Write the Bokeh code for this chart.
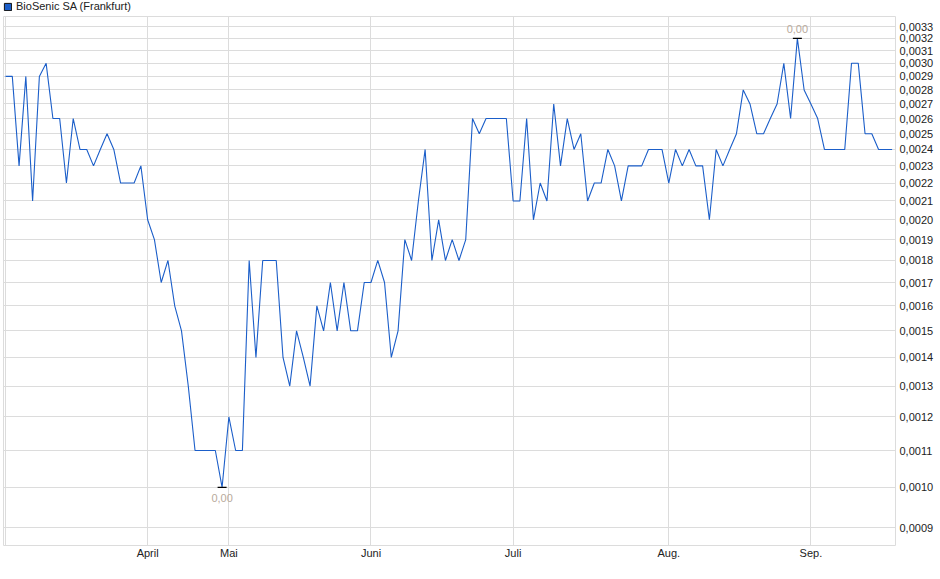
from bokeh.plotting import figure
from bokeh.layouts import column
from bokeh.models import (Range1d, FixedTicker, CustomJSTickFormatter,
                          ColumnDataSource, Legend, LegendItem)
from bokeh.core.properties import value
from bokeh.embed import file_html
from bokeh.resources import INLINE

# ---- data (one value per trading session) ----
prices = [
    0.0029, 0.0029, 0.0023, 0.0029, 0.0021, 0.0029, 0.0030, 0.0026, 0.0026, 0.0022,
    0.0026, 0.0024, 0.0024, 0.0023, 0.0024, 0.0025, 0.0024, 0.0022, 0.0022, 0.0022,
    0.0023, 0.0020, 0.0019, 0.0017, 0.0018, 0.0016, 0.0015, 0.0013, 0.0011, 0.0011,
    0.0011, 0.0011, 0.0010, 0.0012, 0.0011, 0.0011, 0.0018, 0.0014, 0.0018, 0.0018,
    0.0018, 0.0014, 0.0013, 0.0015, 0.0014, 0.0013, 0.0016, 0.0015, 0.0017, 0.0015,
    0.0017, 0.0015, 0.0015, 0.0017, 0.0017, 0.0018, 0.0017, 0.0014, 0.0015, 0.0019,
    0.0018, 0.0021, 0.0024, 0.0018, 0.0020, 0.0018, 0.0019, 0.0018, 0.0019, 0.0026,
    0.0025, 0.0026, 0.0026, 0.0026, 0.0026, 0.0021, 0.0021, 0.0026, 0.0020, 0.0022,
    0.0021, 0.0027, 0.0023, 0.0026, 0.0024, 0.0025, 0.0021, 0.0022, 0.0022, 0.0024,
    0.0023, 0.0021, 0.0023, 0.0023, 0.0023, 0.0024, 0.0024, 0.0024, 0.0022, 0.0024,
    0.0023, 0.0024, 0.0023, 0.0023, 0.0020, 0.0024, 0.0023, 0.0024, 0.0025, 0.0028,
    0.0027, 0.0025, 0.0025, 0.0026, 0.0027, 0.0030, 0.0026, 0.0032, 0.0028, 0.0027,
    0.0026, 0.0024, 0.0024, 0.0024, 0.0024, 0.0030, 0.0030, 0.0025, 0.0025, 0.0024,
    0.0024, 0.0024,
]
month_labels = ["", "April", "Mai", "Juni", "Juli", "Aug.", "Sep."]
month_start_idx = [0, 21, 33, 54, 75, 98, 119]   # first session of each month
y_ticks = [round(0.0009 + 0.0001 * i, 4) for i in range(25)]  # 0,0009 .. 0,0033
series_name = "BioSenic SA (Frankfurt)"

LINE = "#1b5ec9"
GRID = "#dcdcdc"
FONT = "Liberation Sans"
TXT = "#222222"

W = 936
LEG_H = 16

# ---------------- legend strip ----------------
leg = figure(width=W, height=LEG_H, output_backend="svg", toolbar_location=None,
             x_range=Range1d(0, 1), y_range=Range1d(0, 1),
             min_border_left=2, min_border_right=0, min_border_top=0,
             min_border_bottom=0)
leg.axis.visible = False
leg.grid.visible = False
leg.outline_line_color = None
leg.background_fill_color = "white"
leg.border_fill_color = "white"
# swatch renderer: its single box lies outside the strip's range (only the legend shows it)
sw = leg.quad(left=[-5], right=[-4], bottom=[-5], top=[-4], fill_color=LINE,
              line_color="#111111", line_width=1)
legend = Legend(items=[LegendItem(label=series_name, renderers=[sw])],
                location="top_left", orientation="horizontal",
                glyph_width=9, glyph_height=9, label_standoff=4,
                label_text_font=FONT, label_text_font_size="11px",
                label_text_color=TXT, label_height=12,
                padding=0, margin=0, spacing=0,
                border_line_color=None, background_fill_alpha=0)
leg.add_layout(legend)

# ---------------- main chart ----------------
idx = list(range(len(prices)))
src = ColumnDataSource(dict(x=idx, y=prices))

p = figure(width=W, height=555, output_backend="svg", toolbar_location=None,
           y_axis_type="log", y_axis_location="right",
           x_range=Range1d(-0.3, len(prices) - 0.5),
           y_range=Range1d(0.000860, 0.003387),
           min_border_left=3, min_border_right=38, min_border_top=0,
           min_border_bottom=26)
p.background_fill_color = "white"
p.border_fill_color = "white"
p.outline_line_color = GRID
p.outline_line_width = 1

p.line("x", "y", source=src, line_color=LINE, line_width=1.1)

# min / max markers
i_min = min(idx, key=lambda i: prices[i])
i_max = max(idx, key=lambda i: prices[i])
ext = ColumnDataSource(dict(
    x=[i_min, i_max], y=[prices[i_min], prices[i_max]],
    t=[f"{prices[i_min]:.2f}".replace(".", ","), f"{prices[i_max]:.2f}".replace(".", ",")],
    off=[11, -9]))
p.scatter("x", "y", source=ext, marker="dash", size=9, line_color="black", line_width=1.3)
p.text("x", "y", text="t", source=ext, y_offset="off", text_align="center",
       text_baseline="middle", text_font=value(FONT), text_font_size="11px",
       text_color="#b8aa9c")

# y axis (right)
ya = p.yaxis[0]
ya.ticker = FixedTicker(ticks=y_ticks)
ya.formatter = CustomJSTickFormatter(code="return tick.toFixed(4).replace('.', ',');")
ya.axis_line_color = None
ya.major_tick_line_color = None
ya.minor_tick_line_color = None
ya.major_tick_out = 0
ya.major_tick_in = 0
ya.major_label_standoff = 4
ya.major_label_text_font = FONT
ya.major_label_text_font_size = "11px"
ya.major_label_text_color = TXT

# x axis (bottom)
xa = p.xaxis[0]
xa.ticker = FixedTicker(ticks=month_start_idx)
xa.major_label_overrides = {i: lab for i, lab in zip(month_start_idx, month_labels)}
xa.axis_line_color = None
xa.major_tick_line_color = None
xa.minor_tick_line_color = None
xa.major_tick_out = 0
xa.major_tick_in = 0
xa.major_label_standoff = 1
xa.major_label_text_font = FONT
xa.major_label_text_font_size = "11px"
xa.major_label_text_color = TXT

p.xgrid.ticker = FixedTicker(ticks=month_start_idx)
p.ygrid.ticker = FixedTicker(ticks=y_ticks)
for g in (p.xgrid[0], p.ygrid[0]):
    g.grid_line_color = GRID
    g.grid_line_width = 1
p.ygrid.minor_grid_line_color = None

layout = column(leg, p, spacing=0)
open("out.html", "w").write(file_html(layout, INLINE))
